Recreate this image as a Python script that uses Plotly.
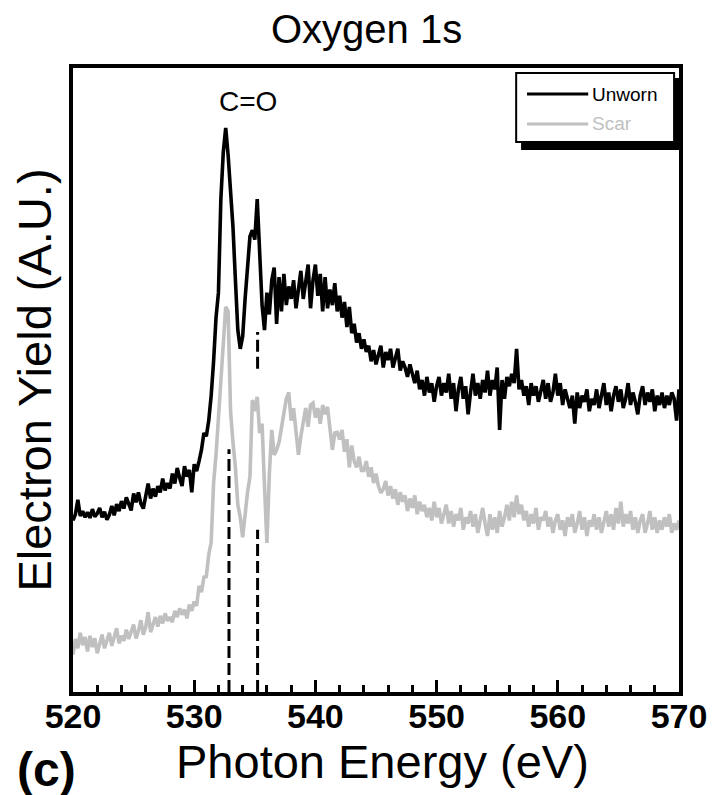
import numpy as np
import plotly.graph_objects as go

# Photon energy grid (eV), 0.2 eV sampling: 520.0 ... 570.0 (251 points)
energy = np.round(np.linspace(520.0, 570.0, 251), 1)

# Electron yield (arbitrary units), one row per eV
unworn = [
    27.5, 28.5, 30.8, 28.2, 29.0,  # 520
    28.0, 28.8, 27.9, 29.3, 28.1,  # 521
    28.6, 29.5, 28.0, 28.9, 27.6,  # 522
    28.4, 29.8, 28.3, 30.1, 29.0,  # 523
    30.6, 29.4, 31.2, 30.0, 29.1,  # 524
    31.8, 30.4, 32.0, 30.2, 29.4,  # 525
    31.5, 33.4, 31.0, 32.6, 31.3,  # 526
    33.0, 32.0, 34.2, 32.3, 33.5,  # 527
    32.6, 35.0, 33.4, 35.9, 34.3,  # 528
    33.0, 36.2, 34.5, 35.6, 32.0,  # 529
    36.5, 35.4, 37.0, 38.8, 41.5,  # 530
    41.0, 43.5, 47.5, 53.0, 60.0,  # 531
    64.0, 79.0, 86.5, 90.4, 86.0,  # 532
    80.0, 74.5, 66.0, 58.0, 55.0,  # 533
    57.0, 63.0, 69.0, 73.0, 74.0,  # 534
    72.5, 79.0, 70.0, 62.0, 58.0,  # 535
    64.0, 60.5, 66.0, 68.0, 59.0,  # 536
    66.5, 61.0, 67.0, 62.0, 65.0,  # 537
    63.0, 66.0, 61.5, 64.5, 67.5,  # 538
    63.0, 65.5, 68.5, 61.5, 66.0,  # 539
    68.5, 63.5, 67.0, 61.0, 66.5,  # 540
    61.5, 64.5, 62.0, 65.5, 61.0,  # 541
    63.5, 60.0, 62.5, 58.5, 61.7,  # 542
    57.5, 59.0, 56.0, 57.5, 55.0,  # 543
    56.5, 54.5, 55.5, 53.0, 54.8,  # 544
    52.5, 54.0, 55.5, 52.0, 54.5,  # 545
    53.2, 55.0, 52.0, 53.5, 55.0,  # 546
    51.5, 53.0, 52.0, 50.5, 52.5,  # 547
    51.0, 49.5, 51.5, 48.5, 50.0,  # 548
    47.5, 50.5, 48.0, 49.5, 46.5,  # 549
    49.0, 50.5, 47.5, 49.5, 48.0,  # 550
    51.0, 47.0, 49.5, 45.0, 48.5,  # 551
    50.5, 47.0, 49.0, 44.5, 48.0,  # 552
    51.0, 47.5, 49.5, 47.0, 50.0,  # 553
    48.0, 51.5, 47.5, 50.0, 48.5,  # 554
    52.0, 42.0, 50.0, 47.0, 50.5,  # 555
    49.0, 51.0, 49.5, 55.0, 48.5,  # 556
    50.0, 47.5, 49.0, 46.0, 49.5,  # 557
    47.5, 49.0, 46.5, 48.5, 50.0,  # 558
    47.0, 49.5, 46.5, 48.0, 51.0,  # 559
    47.5, 49.5, 46.0, 48.5, 47.0,  # 560
    45.5, 47.5, 43.0, 48.0, 45.5,  # 561
    47.5, 46.5, 48.5, 45.0, 47.0,  # 562
    46.0, 48.5, 45.5, 47.5, 49.5,  # 563
    46.0, 48.0, 45.0, 47.5, 49.0,  # 564
    46.5, 48.5, 45.5, 47.0, 49.5,  # 565
    46.0, 48.0, 46.5, 44.5, 47.5,  # 566
    49.0, 46.0, 48.0, 46.5, 48.5,  # 567
    45.0, 47.5, 46.0, 48.0, 45.5,  # 568
    47.5, 46.0, 48.0, 47.0, 43.5,  # 569
    48.5,                          # 570
]

scar = [
    6.0, 8.5, 7.0, 9.5, 7.5,       # 520
    8.8, 6.5, 9.0, 7.2, 8.6,       # 521
    6.2, 8.0, 9.2, 7.0, 8.3,       # 522
    9.5, 7.4, 8.8, 10.2, 7.8,      # 523
    9.0, 8.2, 10.0, 8.5, 9.6,      # 524
    10.8, 8.6, 9.8, 11.5, 9.2,     # 525
    10.4, 12.8, 9.6, 11.0, 12.0,   # 526
    10.5, 12.2, 11.0, 12.6, 11.4,  # 527
    12.0, 11.2, 13.0, 12.0, 13.4,  # 528
    12.4, 13.2, 11.8, 14.0, 13.0,  # 529
    14.5, 13.8, 17.0, 16.0, 18.4,  # 530
    18.5, 22.0, 24.0, 33.5, 38.0,  # 531
    44.0, 49.5, 56.0, 61.7, 61.0,  # 532
    45.0, 40.0, 36.0, 30.0, 28.0,  # 533
    24.8, 29.0, 32.0, 34.5, 46.8,  # 534
    45.0, 47.3, 41.5, 43.0, 33.0,  # 535
    23.9, 35.0, 42.0, 38.0, 38.8,  # 536
    40.0, 42.5, 44.5, 47.0, 48.0,  # 537
    43.5, 45.5, 42.0, 38.0, 41.0,  # 538
    43.5, 45.5, 42.5, 46.0, 46.3,  # 539
    44.0, 45.5, 43.0, 46.0, 44.5,  # 540
    45.7, 42.5, 38.8, 41.5, 41.6,  # 541
    40.5, 42.0, 38.5, 40.5, 36.0,  # 542
    39.5, 37.0, 36.0, 37.7, 35.5,  # 543
    35.5, 37.0, 34.5, 36.0, 33.5,  # 544
    35.0, 33.0, 31.9, 32.5, 33.8,  # 545
    31.5, 33.0, 31.0, 32.5, 30.0,  # 546
    32.0, 30.5, 31.5, 29.0, 31.0,  # 547
    29.5, 31.5, 28.5, 30.5, 29.0,  # 548
    30.0, 28.0, 29.5, 27.5, 30.5,  # 549
    28.0, 29.5, 27.0, 28.5, 30.0,  # 550
    27.0, 29.0, 26.5, 28.5, 27.5,  # 551
    29.5, 26.0, 28.0, 27.0, 29.0,  # 552
    26.5, 28.5, 25.5, 27.5, 29.5,  # 553
    27.0, 25.0, 28.5, 26.0, 28.0,  # 554
    25.5, 29.0, 26.5, 28.0, 30.0,  # 555
    27.5, 30.5, 28.0, 31.5, 28.5,  # 556
    30.0, 27.5, 29.0, 26.5, 28.5,  # 557
    27.0, 29.5, 26.0, 28.0, 27.5,  # 558
    29.0, 26.5, 28.0, 25.5, 27.5,  # 559
    28.5, 26.0, 27.5, 25.0, 28.0,  # 560
    26.5, 28.5, 25.5, 27.0, 29.0,  # 561
    26.0, 28.0, 25.0, 27.5, 26.5,  # 562
    28.5, 26.0, 28.0, 25.5, 27.5,  # 563
    29.0, 26.5, 28.5, 26.0, 29.5,  # 564
    27.0, 30.5, 26.5, 28.5, 27.0,  # 565
    29.0, 26.0, 28.0, 25.5, 27.5,  # 566
    28.5, 25.5, 27.0, 29.0, 26.0,  # 567
    28.0, 25.5, 27.5, 26.0, 28.0,  # 568
    26.5, 28.5, 25.5, 27.0, 26.0,  # 569
    27.5,                          # 570
]

# dashed peak markers (energy, lower end, upper end)
marker_energy = [532.87, 535.23, 535.23]
marker_lo = [0.0, 0.0, 51.8]
marker_hi = [38.9, 26.0, 57.7]

series_names = ["Unworn", "Scar"]
series_colors = ["#000000", "#c0c0c0"]
tick_values = [520, 530, 540, 550, 560, 570]

FONT = "Liberation Sans, Arial, Helvetica, sans-serif"

fig = go.Figure()
fig.add_trace(go.Scatter(x=energy, y=scar, mode="lines", name=series_names[1],
                         line=dict(color=series_colors[1], width=3.6), showlegend=False))
fig.add_trace(go.Scatter(x=energy, y=unworn, mode="lines", name=series_names[0],
                         line=dict(color=series_colors[0], width=3.6), showlegend=False))

shapes = []
for ex, lo, hi in zip(marker_energy, marker_lo, marker_hi):
    shapes.append(dict(type="line", xref="x", yref="y", x0=ex, x1=ex, y0=lo, y1=hi,
                       line=dict(color="black", width=3, dash="12px,5px"), layer="above"))

# legend box with drop shadow (paper coordinates)
shapes.append(dict(type="rect", xref="paper", yref="paper", x0=0.7394, x1=1.0016,
                   y0=0.8686, y1=0.984, fillcolor="black", line=dict(width=0), layer="above"))
shapes.append(dict(type="rect", xref="paper", yref="paper", x0=0.7313, x1=0.9919,
                   y0=0.8814, y1=0.992, fillcolor="white", line=dict(color="black", width=2),
                   layer="above"))
legend_y = [0.9583, 0.9103]
for name, col, ly in zip(series_names, series_colors, legend_y):
    shapes.append(dict(type="line", xref="paper", yref="paper", x0=0.7492, x1=0.8502,
                       y0=ly, y1=ly, line=dict(color=col, width=3), layer="above"))

annotations = []
for name, col, ly in zip(series_names, series_colors, legend_y):
    annotations.append(dict(text=name, xref="paper", yref="paper", x=0.853, y=ly,
                            xanchor="left", yanchor="middle", showarrow=False,
                            font=dict(family=FONT, size=19, color=col)))

annotations += [
    dict(text="Oxygen 1s", xref="paper", yref="paper", x=0.484, y=1.0625,
         xanchor="center", yanchor="middle", showarrow=False,
         font=dict(family=FONT, size=40, color="black")),
    dict(text="C=O", xref="x", yref="y", x=534.4, y=94.7, xanchor="center",
         yanchor="middle", showarrow=False, font=dict(family=FONT, size=28, color="black")),
    dict(text="Photon Energy (eV)", xref="paper", yref="paper", x=0.511, y=-0.112,
         xanchor="center", yanchor="middle", showarrow=False,
         font=dict(family=FONT, size=47, color="black")),
    dict(text="Electron Yield (A.U.)", xref="paper", yref="paper", x=-0.065, y=0.5,
         xanchor="center", yanchor="middle", textangle=-90, showarrow=False,
         font=dict(family=FONT, size=47, color="black")),
    dict(text="<b>(c)</b>", xref="paper", yref="paper", x=-0.044, y=-0.124,
         xanchor="center", yanchor="middle", showarrow=False,
         font=dict(family=FONT, size=48, color="black")),
]

# the page body has an 8px default margin, so the figure is 8px smaller
fig.update_layout(
    width=711, height=787,
    margin=dict(l=65, r=32, t=60, b=103),
    paper_bgcolor="white", plot_bgcolor="white",
    showlegend=False,
    shapes=shapes, annotations=annotations,
    xaxis=dict(range=[520, 570], tickvals=tick_values, ticks="inside", ticklen=12,
               tickwidth=3, tickcolor="black", showline=True, linewidth=4,
               linecolor="black", mirror=True, showgrid=False, zeroline=False,
               ticklabelstandoff=-9,
               tickfont=dict(family=FONT, size=34, color="black", weight="bold"),
               minor=dict(dtick=2, tick0=520, ticks="inside", ticklen=7, tickwidth=3,
                          tickcolor="black", showgrid=False)),
    yaxis=dict(range=[0, 100], showticklabels=False, ticks="", showline=True,
               linewidth=4, linecolor="black", mirror=True, showgrid=False,
               zeroline=False),
)

fig.write_html("out.html")
